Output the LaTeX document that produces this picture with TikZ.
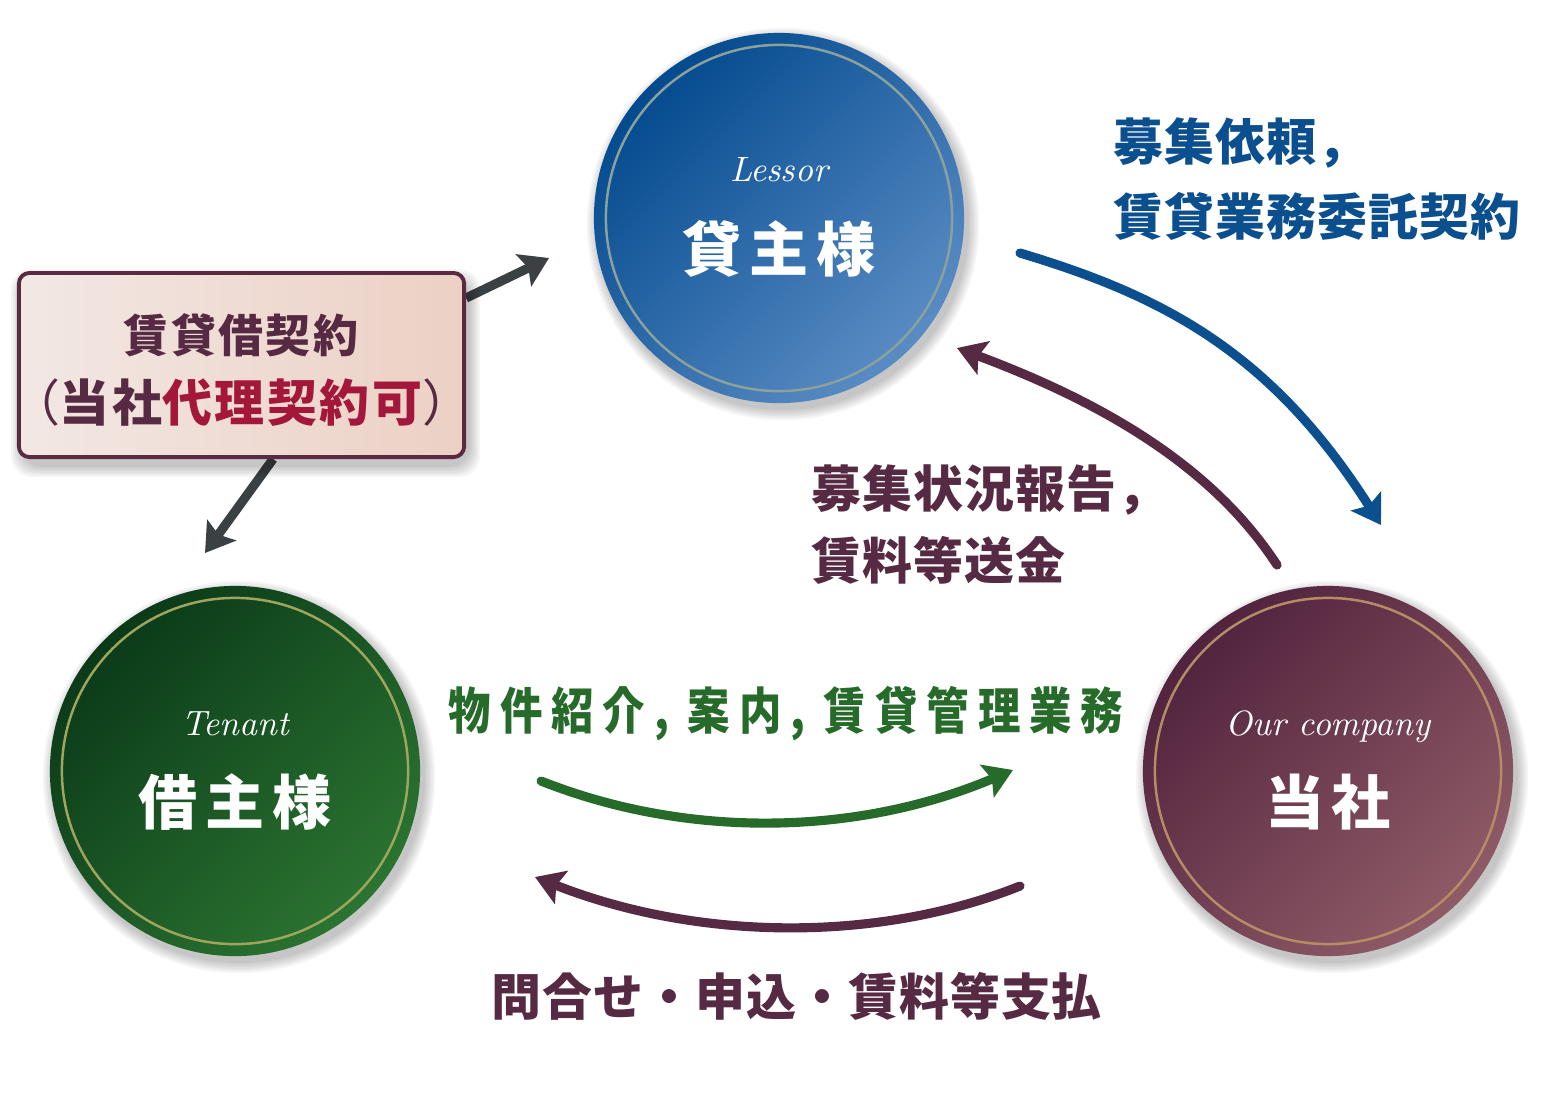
\documentclass[tikz,border=0pt]{standalone}
\usepackage{fontspec}
\usepackage{graphicx}
\usetikzlibrary{arrows.meta}
\newfontfamily\jpcircle{Noto Sans CJK JP}[LetterSpace=13]
\newfontfamily\jplabel{Noto Sans CJK JP}[LetterSpace=2]
\newfontfamily\jpwide{Noto Sans CJK JP}[LetterSpace=21]
\newfontfamily\jpbox{Noto Sans CJK JP}[LetterSpace=5]
\definecolor{lessorA}{HTML}{034A8E}
\definecolor{lessorB}{HTML}{5A8CC4}
\definecolor{lessorRim}{HTML}{8CA19A}
\definecolor{tenantA}{HTML}{0B3A19}
\definecolor{tenantB}{HTML}{2B7431}
\definecolor{tenantRim}{HTML}{A0A55E}
\definecolor{companyA}{HTML}{51233D}
\definecolor{companyB}{HTML}{8F5B67}
\definecolor{companyRim}{HTML}{B58C66}
\definecolor{askblue}{HTML}{0B4F8F}
\definecolor{ourred}{HTML}{562A42}
\definecolor{svcgreen}{HTML}{276B2A}
\definecolor{agentred}{HTML}{A3173A}
\definecolor{dealgray}{HTML}{3B4043}
\definecolor{boxL}{HTML}{F2E8E4}
\definecolor{boxR}{HTML}{ECD0C4}
\definecolor{boxline}{HTML}{5A2A42}
\pgfdeclarelayer{background}
\pgfsetlayers{background,main}
\tikzstyle{party}=[circle,minimum size=3.7cm,inner sep=0pt]
\tikzstyle{haze}=[fill=black,opacity=0.04]
\tikzstyle{ring}=[line width=0.7pt]
\tikzstyle{enname}=[anchor=base,inner sep=0pt,text=white,
  font=\itshape\fontsize{10}{12}\selectfont\addfontfeatures{LetterSpace=6}]
\tikzstyle{jpname}=[anchor=base,inner sep=0pt,text=white,
  font=\jpcircle\bfseries\fontsize{16.8}{20}\selectfont]
\tikzstyle{note}=[anchor=base west,inner sep=0pt,font=\jplabel\bfseries\fontsize{14.2}{18}\selectfont]
\tikzstyle{contract}=[rectangle,rounded corners=3pt,draw=boxline,line width=1.1pt,
  minimum width=4.45cm,minimum height=1.84cm,left color=boxL,right color=boxR]
\tikzstyle{boxtext}=[anchor=base,inner sep=0pt,text=ourred]
\tikzstyle{flow}=[draw,line width=2.6pt,line cap=round,-{Stealth[length=8pt,width=10pt,inset=1.5pt]}]
\tikzstyle{deal}=[flow,draw=dealgray,line cap=butt]

\begin{document}
\begin{tikzpicture}[x=0.01cm,y=-0.01cm]
    \begin{pgfonlayer}{background}
        \fill[white] (0,0) rectangle (1558,1096);
    \end{pgfonlayer}
    \useasboundingbox (0,0) rectangle (1558,1096);
    % the three parties
    \foreach \name/\pos/\dark/\light/\rim/\en/\ja in {{lessor/(779,218)/lessorA/lessorB/lessorRim/Lessor/貸主様},
        {tenant/(235,771)/tenantA/tenantB/tenantRim/Tenant/借主様},
        {company/(1328,771)/companyA/companyB/companyRim/Our company/当社}}
    {
        \foreach \r in {1.86,1.88,...,1.97}
            \fill[haze] \pos ++(4,6) circle (\r cm);
        \node[party,top color=\dark,bottom color=\light,shading angle=45] (\name) at \pos {};
        \draw[ring,draw=\rim] (\name.center) circle (1.73cm);
        \node[enname] (\name-en) at ([yshift=0.36cm]\name.center) {\en};
        \node[jpname] (\name-ja) at ([yshift=-0.53cm]\name.center) {\ja};
    }

    % the lease contract box
    \foreach \g in {0,2,...,10}
        \fill[haze,rounded corners=6pt] ({21-\g},{279-\g}) rectangle ({470+\g},{467+\g});
    \node[contract] (contract) at (241.5,365) {};
    \node[boxtext,font=\jpbox\bfseries\fontsize{12.8}{15}\selectfont] (contract-a) at (241,352) {賃貸借契約};
    \node[boxtext,font=\jpbox\bfseries\fontsize{14.2}{17}\selectfont] (contract-b) at (241,421)
        {{\mdseries （}当社\textcolor{agentred}{代理契約可}{\mdseries ）}};

    % labels
    \node[note,text=askblue] (ask-a) at (1113,160) {募集依頼，};
    \node[note,text=askblue] (ask-b) at (1113,235) {賃貸業務委託契約};
    \node[note,text=ourred] (report-a) at (811,507) {募集状況報告，};
    \node[note,text=ourred] (report-b) at (811,579) {賃料等送金};
    \node[note,text=svcgreen] (service) at (448,729) {\scalebox{0.85}[1]{\jpwide\bfseries 物件紹介, 案内, 賃貸管理業務}};
    \node[note,text=ourred] (payment) at (491,1015) {問合せ・申込・賃料等支払};

    % arrow ends
    \coordinate (contract-r) at ([yshift=-0.27cm]contract.north east);
    \coordinate (contract-d) at ([xshift=2.56cm]contract.south west);
    \coordinate (lessor-in) at (549,258);
    \coordinate (tenant-in) at (205,553);
    \coordinate (ask-from) at (1020,253);
    \coordinate (ask-to) at (1381,525);
    \coordinate (report-from) at (1277,565);
    \coordinate (report-to) at (957,348);
    \coordinate (service-from) at (541,781);
    \coordinate (service-to) at (1013,770);
    \coordinate (payment-from) at (1020,886);
    \coordinate (payment-to) at (535,877);

    % connect them
    \begin{pgfonlayer}{background}
        \path[deal] (contract-r) -- (lessor-in);
        \path[deal] (contract-d) -- (tenant-in);
    \end{pgfonlayer}
    \path[flow,draw=askblue] (ask-from) .. controls (1160,295) and (1270,350) .. (ask-to);
    \path[flow,draw=ourred] (report-from) .. controls (1215,470) and (1110,405) .. (report-to);
    \path[flow,draw=svcgreen] (service-from) .. controls (690,840) and (860,835) .. (service-to);
    \path[flow,draw=ourred] (payment-from) .. controls (880,942) and (700,942) .. (payment-to);
\end{tikzpicture}
\end{document}
